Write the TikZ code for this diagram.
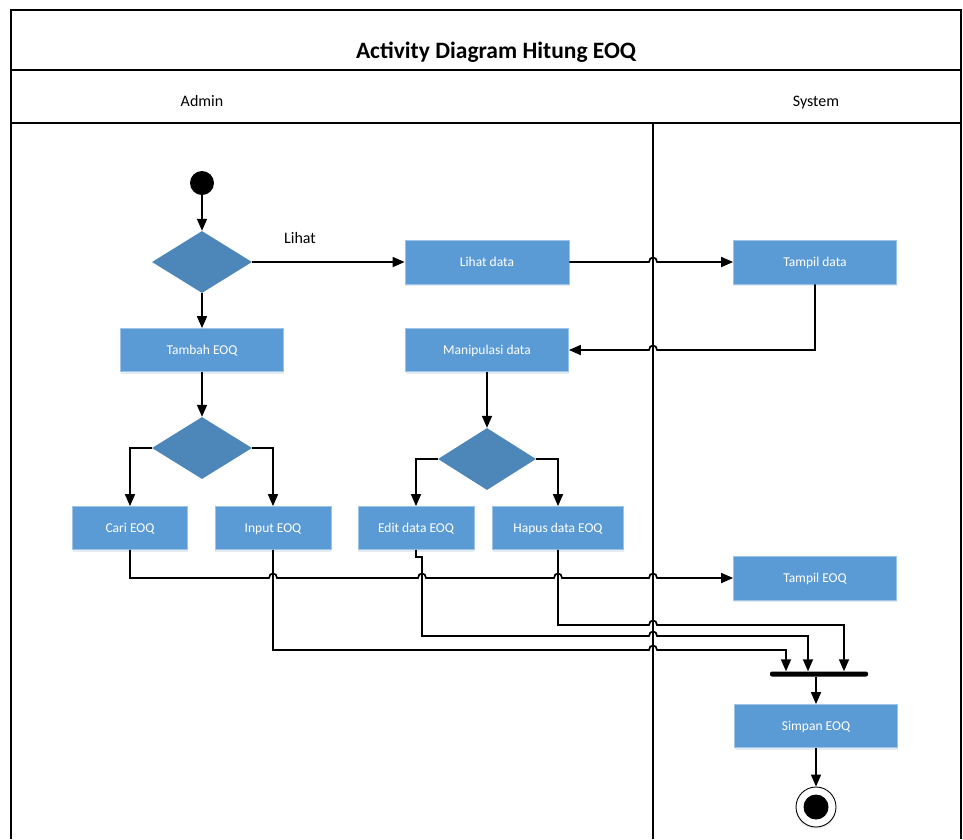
\documentclass[tikz,border=0pt]{standalone}
\usepackage{fontspec}
\setmainfont{Carlito}
\usetikzlibrary{arrows.meta,shapes.geometric,shadows}

\definecolor{boxblue}{HTML}{5B9BD5}
\definecolor{boxedge}{HTML}{9DC3E6}
\definecolor{decblue}{HTML}{4D87BA}

\begin{document}
\begin{tikzpicture}[x=1pt,y=-1pt,
  frame/.style={line width=1.5pt},
  act/.style={rectangle, draw=boxedge, line width=0.8pt, fill=boxblue,
    text=white, minimum height=43pt, inner sep=2pt,
    text height=10pt, text depth=1.5pt,
    font=\fontsize{13.5}{15}\selectfont,
    drop shadow={shadow xshift=0pt, shadow yshift=-2pt, opacity=0.18, fill=boxblue!60!gray}},
  dec/.style={diamond, fill=decblue, minimum width=100pt, minimum height=62pt,
    inner sep=0pt, draw=none},
  arr/.style={-{Triangle[length=12pt,width=10pt]}, line width=1.7pt},
  lanelabel/.style={font=\fontsize{16}{18}\selectfont, text height=11.5pt, text depth=1.5pt}]

\useasboundingbox (0,0) rectangle (963,839);

% swimlane frame
\draw[frame] (11,839) -- (11,10) -- (961,10) -- (961,839);
\draw[frame] (11,70) -- (961,70);
\draw[frame] (11,123) -- (961,123);
\draw[frame] (653,123) -- (653,839);
\node[font=\bfseries\fontsize{23.5}{26}\selectfont] (title) at (496,52) {Activity Diagram Hitung EOQ};
\node[lanelabel] (admin) at (202,101) {Admin};
\node[lanelabel] (system) at (816,101) {System};

% start and decisions
\node[circle, fill=black, minimum size=24pt, inner sep=0pt] (start) at (202,183) {};
\node[dec] (d1) at (202,262) {};
\node[dec] (d2) at (202,448) {};
\node[dec, minimum width=98pt] (d3) at (487,459) {};

% actions
\node[act, minimum width=164pt, minimum height=44pt] (lihat) at (487,262) {Lihat data};
\node[act, minimum width=163pt, minimum height=44pt] (tampil) at (815,262) {Tampil data};
\node[act, minimum width=163pt] (tambah) at (202,350) {Tambah EOQ};
\node[act, minimum width=163pt] (manip) at (487,350) {Manipulasi data};
\node[act, minimum width=115pt] (cari) at (130,528) {Cari EOQ};
\node[act, minimum width=116pt] (input) at (273,528) {Input EOQ};
\node[act, minimum width=116pt] (edit) at (416,528) {Edit data EOQ};
\node[act, minimum width=131pt] (hapus) at (558,528) {Hapus data EOQ};
\node[act, minimum width=163pt, minimum height=44pt] (tampileoq) at (815,578) {Tampil EOQ};
\node[rectangle, fill=black, rounded corners=2pt, minimum width=98pt, minimum height=5pt, inner sep=0pt] (join) at (819,674) {};
\node[act, minimum width=163pt] (simpan) at (816,726) {Simpan EOQ};
\node[circle, draw=black, line width=0.9pt, fill=white, minimum size=40pt, inner sep=0pt,
  drop shadow={shadow xshift=0pt, shadow yshift=-2pt, opacity=0.15, fill=gray}] (endo) at (816,807) {};
\node[circle, fill=black, minimum size=25pt, inner sep=0pt] (endi) at (endo) {};

\node[font=\fontsize{16}{18}\selectfont] (lbl) at (300,238) {Lihat};

% flow
\draw[arr] (start) -- (d1.north);
\draw[arr] (d1.east) -- (lihat.west);
\draw[arr] (lihat.east) -- (649,262) .. controls (649,256) and (657,256) .. (657,262) -- (tampil.west);
\draw[arr] (tampil.south) -- (815,350) -- (657,350) .. controls (657,344) and (649,344) .. (649,350) -- (manip.east);
\draw[arr] (d1.south) -- (tambah.north);
\draw[arr] (tambah.south) -- (d2.north);
\draw[arr] (d2.west) -| (cari.north);
\draw[arr] (d2.east) -| (input.north);
\draw[arr] (manip.south) -- (d3.north);
\draw[arr] (d3.west) -| (edit.north);
\draw[arr] (d3.east) -| (hapus.north);

\draw[arr] (cari.south) -- (130,578)
  -- (269,578) .. controls (269,572) and (277,572) .. (277,578)
  -- (418,578) .. controls (418,572) and (426,572) .. (426,578)
  -- (554,578) .. controls (554,572) and (562,572) .. (562,578)
  -- (649,578) .. controls (649,572) and (657,572) .. (657,578)
  -- (tampileoq.west);

\draw[arr] (input.south) -- (273,650)
  -- (649,650) .. controls (649,644) and (657,644) .. (657,650)
  -- (786,650) -- (786,0 |- join.north);
\draw[arr] (edit.south) -- (416,557) -- (422,557) -- (422,636)
  -- (649,636) .. controls (649,630) and (657,630) .. (657,636)
  -- (808,636) -- (808,0 |- join.north);
\draw[arr] (hapus.south) -- (558,625)
  -- (649,625) .. controls (649,619) and (657,619) .. (657,625)
  -- (844,625) -- (844,0 |- join.north);

\draw[arr] (simpan.north |- join.south) -- (simpan.north);
\draw[arr] (simpan.south) -- (endo.north);
\end{tikzpicture}
\end{document}
